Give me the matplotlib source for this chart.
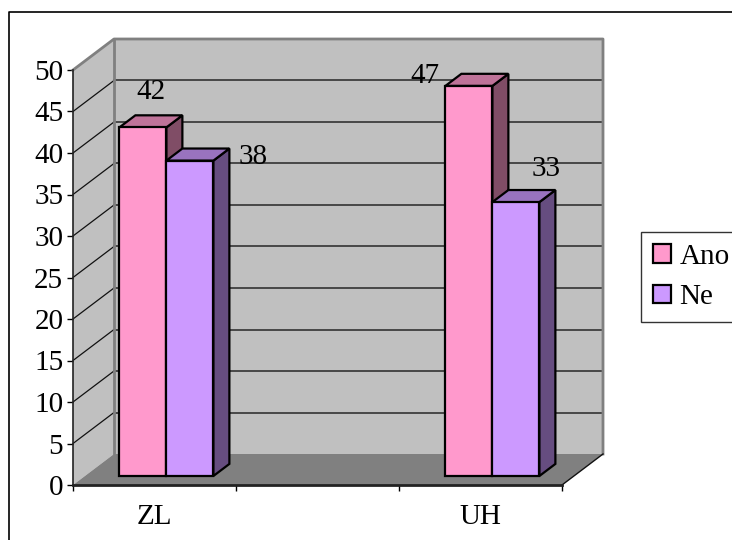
import matplotlib
matplotlib.use("Agg")
import matplotlib.pyplot as plt
from matplotlib.patches import Polygon, Patch
from matplotlib.lines import Line2D

plt.rcParams['font.family'] = ['Liberation Serif', 'DejaVu Serif']

# ---- data ----
categories = ["ZL", "", "UH"]
series_names = ["Ano", "Ne"]
ano_values = [42, None, 47]
ne_values = [38, None, 33]
y_ticks = [0, 5, 10, 15, 20, 25, 30, 35, 40, 45, 50]

front_colors = ["#FF99CC", "#CC99FF"]
top_colors = ["#BF7399", "#9973BF"]
side_colors = ["#804D66", "#664D80"]

FS = 21
W_PX, H_PX, DPI = 732, 540, 100
fig = plt.figure(figsize=(W_PX / DPI, H_PX / DPI), dpi=DPI)
fig.patch.set_facecolor("white")

# front plane of the 3-D box
ax_l, ax_b, ax_w, ax_h = 73, 55, 489, 415
ax = fig.add_axes([ax_l / W_PX, ax_b / H_PX, ax_w / W_PX, ax_h / H_PX])
ncat = len(categories)
ymax = 50
ax.set_xlim(0, ncat)
ax.set_ylim(0, ymax)
ax.patch.set_visible(False)
for s in ax.spines.values():
    s.set_visible(False)

# depth offset of the back wall, in data units
DX = 41 / (ax_w / ncat)
DY = 31 / (ax_h / ymax)

wall_c = "#C0C0C0"
floor_c = "#808080"
edge_c = "#808080"

# side wall, back wall, floor
ax.add_patch(Polygon([(0, 0), (0, ymax), (DX, ymax + DY), (DX, DY)],
                     closed=True, fc=wall_c, ec="none", clip_on=False, zorder=1))
ax.add_patch(Polygon([(DX, DY), (ncat + DX, DY), (ncat + DX, ymax + DY), (DX, ymax + DY)],
                     closed=True, fc=wall_c, ec="none", clip_on=False, zorder=1))
ax.add_patch(Polygon([(0, 0), (ncat, 0), (ncat + DX, DY), (DX, DY)],
                     closed=True, fc=floor_c, ec="none", clip_on=False, zorder=1))

# gridlines on walls
for v in y_ticks[1:-1]:
    ax.plot([DX, ncat + DX], [v + DY, v + DY], color="#333333", lw=1.2,
            clip_on=False, zorder=2)
    ax.plot([0, DX], [v, v + DY], color="#111111", lw=0.9, clip_on=False, zorder=2)

# wall edges
ax.plot([0, DX, ncat + DX, ncat + DX], [ymax, ymax + DY, ymax + DY, DY],
        color=edge_c, lw=2, clip_on=False, zorder=2)
ax.plot([DX, DX], [DY, ymax + DY], color=edge_c, lw=2, clip_on=False, zorder=2)
ax.plot([ncat, ncat + DX], [0, DY], color="#111111", lw=1, clip_on=False, zorder=2)

# front axes
ax.plot([0, 0], [0, ymax], color="#222222", lw=1.2, clip_on=False, zorder=3)
ax.plot([0, ncat], [0, 0], color="#222222", lw=2, clip_on=False, zorder=3)

# bars
bw = 47 / (ax_w / ncat)
d0, d1 = 0.29, 0.68
label_offsets = {(0, 0): (8, 35), (0, 1): (63, 4), (2, 0): (-44, 10), (2, 1): (30, 33)}
series = [ano_values, ne_values]
for i in range(ncat):
    for j, vals in enumerate(series):
        v = vals[i]
        if v is None:
            continue
        x0 = i + 0.5 - bw + j * bw
        fx0, fx1 = x0 + d0 * DX, x0 + bw + d0 * DX
        bx0, bx1 = x0 + d1 * DX, x0 + bw + d1 * DX
        fy, by = d0 * DY, d1 * DY
        kw = dict(closed=True, ec="black", lw=1.6, joinstyle="miter",
                  clip_on=False, zorder=5)
        ax.add_patch(Polygon([(fx1, fy), (bx1, by), (bx1, v + by), (fx1, v + fy)],
                             fc=side_colors[j], **kw))
        ax.add_patch(Polygon([(fx0, v + fy), (fx1, v + fy), (bx1, v + by), (bx0, v + by)],
                             fc=top_colors[j], **kw))
        ax.add_patch(Polygon([(fx0, fy), (fx1, fy), (fx1, v + fy), (fx0, v + fy)],
                             fc=front_colors[j], **kw))
        ox, oy = label_offsets[(i, j)]
        ax.annotate(str(v), xy=((fx0 + fx1) / 2, v + fy), xytext=(ox, oy),
                    textcoords="offset pixels", ha="center", va="center",
                    fontsize=FS, color="black", zorder=6)

# ticks
ax.set_yticks(y_ticks)
ax.set_yticklabels([str(t) for t in y_ticks], fontsize=FS)
ax.tick_params(axis="y", direction="out", length=4.5, width=1, pad=2.5, color="black")
ax.set_xticks(range(ncat + 1))
ax.set_xticklabels([""] * (ncat + 1))
ax.tick_params(axis="x", which="major", direction="out", length=4.5, width=1, color="black")
ax.set_xticks([i + 0.5 for i in range(ncat)], minor=True)
ax.set_xticklabels(categories, minor=True, fontsize=FS)
ax.tick_params(axis="x", which="minor", length=0, pad=14)

# legend
handles = [Patch(fc=front_colors[k], ec="black", lw=1.6) for k in range(2)]
leg = fig.legend(handles, series_names, loc="upper left",
                 bbox_to_anchor=(641 / W_PX, 1 - 232 / H_PX),
                 bbox_transform=fig.transFigure, fontsize=FS, frameon=True,
                 fancybox=False, borderpad=0.4, labelspacing=0.5,
                 handlelength=0.62, handleheight=0.62, handletextpad=0.3,
                 borderaxespad=0)
leg.get_frame().set_edgecolor("black")
leg.get_frame().set_linewidth(1)

# chart border
fig.add_artist(Line2D([8.5 / W_PX, 8.5 / W_PX, 1.0], [0, 1 - 11.5 / H_PX, 1 - 11.5 / H_PX],
                      transform=fig.transFigure, color="black", lw=1.2))

fig.savefig("out.png", dpi=DPI)
